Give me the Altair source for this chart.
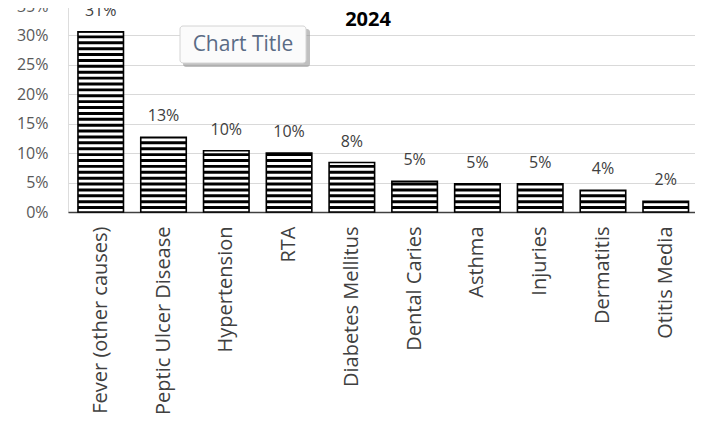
import altair as alt
import pandas as pd

categories = ["Fever (other causes)", "Peptic Ulcer Disease", "Hypertension", "RTA",
              "Diabetes Mellitus", "Dental Caries", "Asthma", "Injuries",
              "Dermatitis", "Otitis Media"]
values = [0.306, 0.127, 0.104, 0.100, 0.084, 0.052, 0.048, 0.048, 0.037, 0.018]
y_ticks = [0, 0.05, 0.10, 0.15, 0.20, 0.25, 0.30, 0.35]
year_title = "2024"
floating_title = "Chart Title"

df = pd.DataFrame({"cat": categories, "val": values})

# stripe pattern rows (decorative fill): black band in the upper half of every 1% step
stripe_rows = []
for c, v in zip(categories, values):
    k = 0.0
    while k + 0.005 < v:
        stripe_rows.append({"cat": c, "val": k + 0.005, "val2": min(k + 0.01, v)})
        k += 0.01
stripes = pd.DataFrame(stripe_rows)

FONT = "Open Sans"

xscale = alt.Scale(domain=categories, paddingInner=0.275, paddingOuter=0.131, align=0.606, round=False)
yscale = alt.Scale(domain=[0, 0.35], nice=False)

xenc = alt.X("cat:N", scale=xscale, sort=categories,
             axis=alt.Axis(title=None, labelAngle=270, labelAlign="right", labelBaseline="middle",
                           labelPadding=14, ticks=False, domain=True, domainColor="#404040",
                           domainWidth=1.5, labelFont=FONT, labelFontSize=20,
                           labelColor="#404040", labelLimit=400, grid=False))
yenc = alt.Y("val:Q", scale=yscale,
             axis=alt.Axis(title=None, format=".0%", values=y_ticks,
                           ticks=False, domain=False, labelPadding=20, labelFont=FONT,
                           labelFontSize=16, labelColor="#595959", gridColor="#d9d9d9",
                           gridWidth=1, grid=True))

base_bar = alt.Chart(df).mark_bar(fill="white", stroke=None)

stripe_layer = alt.Chart(stripes).mark_bar(fill="black", stroke=None).encode(y2="val2:Q")

outline = alt.Chart(df).mark_bar(fillOpacity=0, stroke="black", strokeWidth=1.6)

labels = alt.Chart(df).mark_text(dy=-21, baseline="middle", align="center", font=FONT,
                                 fontSize=16, color="#404040").encode(
    text=alt.Text("val:Q", format=".0%"),
)

one = pd.DataFrame({"a": [0]})

year = alt.Chart(one).mark_text(font=FONT, fontSize=20, fontWeight="bold", color="black",
                                align="center", baseline="middle").encode(
    x=alt.value(300), y=alt.value(14), text=alt.value(year_title))

shadow = alt.Chart(one).mark_rect(fill="#8c8c8c", opacity=0.55, cornerRadius=3).encode(
    x=alt.value(115), x2=alt.value(242), y=alt.value(23), y2=alt.value(61))
box = alt.Chart(one).mark_rect(fill="#fbfbfb", stroke="#d4d4d4", strokeWidth=1, cornerRadius=3).encode(
    x=alt.value(112), x2=alt.value(238), y=alt.value(20), y2=alt.value(57))
box_text = alt.Chart(one).mark_text(font=FONT, fontSize=21, color="#5a6b85",
                                    align="center", baseline="middle").encode(
    x=alt.value(175), y=alt.value(39), text=alt.value(floating_title))

chart = alt.layer(base_bar, stripe_layer, outline, labels, year, shadow, box, box_text).encode(
    x=xenc, y=yenc
).properties(
    width=627, height=206,
    padding={"left": 60, "top": -2, "right": 0, "bottom": 205},
    autosize=alt.AutoSizeParams(type="none"),
).configure_view(stroke=None).configure(background="white")

chart.save("out.html", embed_options={"renderer": "svg", "actions": False})
